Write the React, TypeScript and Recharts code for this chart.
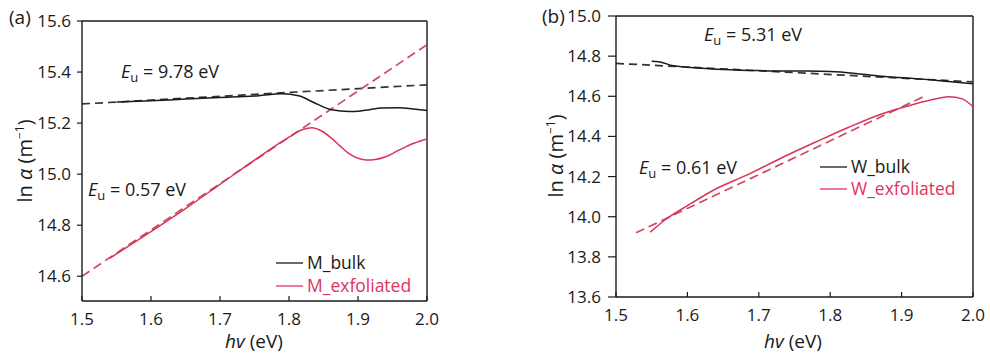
import { LineChart, Line, XAxis, YAxis, ReferenceLine } from "recharts"

// panel (a): M samples
const mBulkX = [1.55, 1.6, 1.65, 1.7, 1.75, 1.79, 1.814, 1.838, 1.862, 1.887, 1.91, 1.935, 1.96, 1.98, 2.0]
const mBulkY = [15.283, 15.288, 15.294, 15.3, 15.306, 15.315, 15.307, 15.278, 15.252, 15.245, 15.25, 15.259, 15.26, 15.255, 15.249]
const mBulkFitX = [1.5, 2.0]
const mBulkFitY = [15.275, 15.35]
const mExfX = [1.54, 1.6, 1.65, 1.7, 1.75, 1.8, 1.82, 1.833, 1.848, 1.862, 1.875, 1.887, 1.9, 1.912, 1.925, 1.94, 1.96, 1.98, 2.0]
const mExfY = [14.67, 14.775, 14.865, 14.96, 15.055, 15.145, 15.175, 15.182, 15.168, 15.14, 15.108, 15.08, 15.062, 15.055, 15.057, 15.068, 15.095, 15.12, 15.138]
const mExfFitX = [1.5, 2.0]
const mExfFitY = [14.6, 15.507]

// panel (b): W samples
const wBulkX = [1.55, 1.56, 1.58, 1.6, 1.65, 1.7, 1.75, 1.8, 1.85, 1.88, 1.92, 1.95, 2.0]
const wBulkY = [14.774, 14.772, 14.752, 14.745, 14.734, 14.728, 14.726, 14.724, 14.708, 14.697, 14.688, 14.679, 14.662]
const wBulkFitX = [1.5, 2.0]
const wBulkFitY = [14.764, 14.672]
const wExfX = [1.548, 1.569, 1.6, 1.639, 1.686, 1.733, 1.779, 1.826, 1.872, 1.919, 1.945, 1.966, 1.985, 2.0]
const wExfY = [13.923, 13.985, 14.055, 14.137, 14.212, 14.295, 14.371, 14.446, 14.512, 14.562, 14.585, 14.598, 14.587, 14.548]
const wExfFitX = [1.528, 1.93]
const wExfFitY = [13.92, 14.597]

const xTicks = [1.5, 1.6, 1.7, 1.8, 1.9, 2.0]
const yTicksA = [14.6, 14.8, 15.0, 15.2, 15.4, 15.6]
const yTicksB = [13.6, 13.8, 14.0, 14.2, 14.4, 14.6, 14.8, 15.0]

const zip = (xs: number[], ys: number[]) => xs.map((x, i) => ({ x, y: ys[i] }))

const INK = "#1a1a1a"
const RED = "#d9345a"
const RED_TEXT = "#e0335e"
const FONT = "'Open Sans', sans-serif"

const XTick = (props: any) => {
  const { x, y, payload } = props
  return (
    <g>
      <line x1={x} x2={x} y1={y} y2={y - 5} stroke={INK} strokeWidth={1.2} />
      <text x={x} y={y + 24} textAnchor="middle" fontSize={17} fill={INK}>
        {payload.value.toFixed(1)}
      </text>
    </g>
  )
}

const fmt = (v: number) => v.toFixed(1)

const Eu = ({ x, y, value }: { x: number; y: number; value: string }) => (
  <text x={x} y={y} fontSize={18} fill={INK}>
    <tspan fontStyle="italic">E</tspan>
    <tspan fontSize={13} dy={4}>u</tspan>
    <tspan dy={-4}> = {value} eV</tspan>
  </text>
)

const YLabel = ({ x, y }: { x: number; y: number }) => (
  <text x={x} y={y} fontSize={20} fill={INK} textAnchor="middle" transform={`rotate(-90, ${x}, ${y})`}>
    ln <tspan fontStyle="italic">α</tspan> (m<tspan fontSize={12} dy={-8}>−1</tspan><tspan dy={8}>)</tspan>
  </text>
)

const XLabel = ({ x, y }: { x: number; y: number }) => (
  <text x={x} y={y} fontSize={19} fill={INK} textAnchor="middle">
    <tspan fontStyle="italic">hv</tspan> (eV)
  </text>
)

const LegendItem = ({ x, y, color, label }: { x: number; y: number; color: string; label: string }) => (
  <g>
    <line x1={x} x2={x + 27} y1={y} y2={y} stroke={color} strokeWidth={1.3} />
    <text x={x + 31} y={y + 6} fontSize={17.5} fill={color}>{label}</text>
  </g>
)

export default function App() {
  return (
    <div style={{ position: "absolute", left: 0, top: 0, width: 990, height: 361, background: "#fff", fontFamily: FONT }}>
      <div style={{ position: "absolute", left: 0, top: 0 }}>
        <LineChart width={460} height={361} margin={{ top: 21, right: 33, bottom: 0, left: 0 }}>
          <XAxis
            dataKey="x"
            type="number"
            domain={[1.5, 2.0]}
            ticks={xTicks}
            allowDataOverflow
            height={60}
            tickSize={0}
            tickMargin={0}
            tickLine={false}
            tick={<XTick />}
            axisLine={{ stroke: INK, strokeWidth: 1.4 }}
          />
          <YAxis
            type="number"
            domain={[14.503, 15.6]}
            ticks={yTicksA}
            allowDataOverflow
            width={82}
            tickSize={5}
            tickMargin={6}
            tickFormatter={fmt}
            tick={{ fontSize: 17, fill: INK }}
            tickLine={{ stroke: INK, strokeWidth: 1.2 }}
            axisLine={{ stroke: INK, strokeWidth: 1.4 }}
          />
          <ReferenceLine y={15.6} stroke={INK} strokeWidth={1.4} />
          <ReferenceLine x={2.0} stroke={INK} strokeWidth={1.4} />
          <Line data={zip(mBulkFitX, mBulkFitY)} dataKey="y" type="linear" stroke="#333" strokeWidth={1.7} strokeDasharray="8 5" dot={false} isAnimationActive={false} />
          <Line data={zip(mExfFitX, mExfFitY)} dataKey="y" type="linear" stroke="#cf4a62" strokeWidth={1.7} strokeDasharray="9 5" dot={false} isAnimationActive={false} />
          <Line data={zip(mBulkX, mBulkY)} dataKey="y" type="monotone" stroke={INK} strokeWidth={1.5} dot={false} isAnimationActive={false} />
          <Line data={zip(mExfX, mExfY)} dataKey="y" type="monotone" stroke={RED} strokeWidth={1.5} dot={false} isAnimationActive={false} />
        </LineChart>
      </div>
      <div style={{ position: "absolute", left: 520, top: 0 }}>
        <LineChart width={470} height={361} margin={{ top: 16, right: 17, bottom: 0, left: 0 }}>
          <XAxis
            dataKey="x"
            type="number"
            domain={[1.5, 2.0]}
            ticks={xTicks}
            allowDataOverflow
            height={64}
            tickSize={0}
            tickMargin={0}
            tickLine={false}
            tick={<XTick />}
            axisLine={{ stroke: INK, strokeWidth: 1.4 }}
          />
          <YAxis
            type="number"
            domain={[13.6, 15.0]}
            ticks={yTicksB}
            allowDataOverflow
            width={96}
            tickSize={8}
            tickMargin={7}
            tickFormatter={fmt}
            tick={{ fontSize: 17, fill: INK }}
            tickLine={{ stroke: INK, strokeWidth: 1.2 }}
            axisLine={{ stroke: INK, strokeWidth: 1.4 }}
          />
          <ReferenceLine y={15.0} stroke={INK} strokeWidth={1.4} />
          <ReferenceLine x={2.0} stroke={INK} strokeWidth={1.4} />
          <Line data={zip(wBulkFitX, wBulkFitY)} dataKey="y" type="linear" stroke="#333" strokeWidth={1.7} strokeDasharray="8 5" dot={false} isAnimationActive={false} />
          <Line data={zip(wExfFitX, wExfFitY)} dataKey="y" type="linear" stroke="#cf4a62" strokeWidth={1.7} strokeDasharray="9 5" dot={false} isAnimationActive={false} />
          <Line data={zip(wBulkX, wBulkY)} dataKey="y" type="monotone" stroke={INK} strokeWidth={1.5} dot={false} isAnimationActive={false} />
          <Line data={zip(wExfX, wExfY)} dataKey="y" type="monotone" stroke={RED} strokeWidth={1.5} dot={false} isAnimationActive={false} />
        </LineChart>
      </div>
      <svg width={990} height={361} style={{ position: "absolute", left: 0, top: 0, pointerEvents: "none", fontFamily: FONT }}>
        <text x={9} y={24} fontSize={19} fill={INK}>(a)</text>
        <Eu x={121} y={78} value="9.78" />
        <Eu x={88} y={196} value="0.57" />
        <LegendItem x={276} y={263} color={INK} label="M_bulk" />
        <LegendItem x={276} y={286} color={RED_TEXT} label="M_exfoliated" />
        <XLabel x={254} y={348} />
        <YLabel x={32} y={161} />

        <text x={542} y={23} fontSize={19} fill={INK}>(b)</text>
        <Eu x={704} y={41} value="5.31" />
        <Eu x={639} y={174} value="0.61" />
        <LegendItem x={820} y={167} color={INK} label="W_bulk" />
        <LegendItem x={820} y={189} color={RED_TEXT} label="W_exfoliated" />
        <XLabel x={793} y={348} />
        <YLabel x={563} y={156} />
      </svg>
    </div>
  )
}
